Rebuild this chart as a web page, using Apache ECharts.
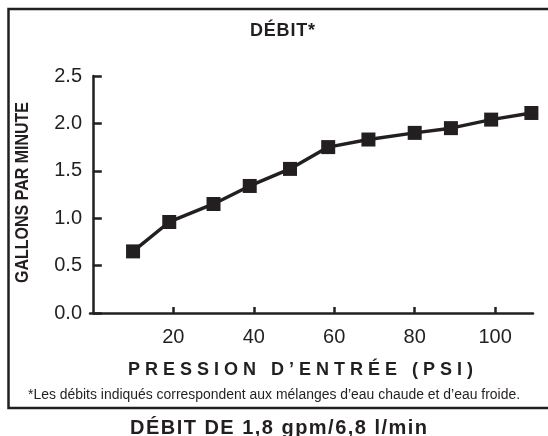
<!DOCTYPE html>
<html>
<head>
<meta charset="utf-8">
<script src="https://cdn.jsdelivr.net/npm/echarts@6/dist/echarts.min.js"></script>
<style>
html,body{margin:0;padding:0;background:#fff;}
#chart{width:548px;height:436px;}
</style>
</head>
<body>
<div id="chart"></div>
<script>
// ---- data ----
var pressure = [10, 19, 30, 39, 49, 58.5, 68.5, 80, 89, 99, 109];
var flowGpm  = [0.65, 0.96, 1.15, 1.34, 1.52, 1.75, 1.83, 1.90, 1.95, 2.04, 2.11];
var xTicks = [20, 40, 60, 80, 100];
var yTicks = [0, 0.5, 1.0, 1.5, 2.0, 2.5];
var titleText = 'DÉBIT*';
var yName = 'GALLONS PAR MINUTE';
var xName = 'PRESSION D’ENTRÉE (PSI)';
var footnote = '*Les débits indiqués correspondent aux mélanges d’eau chaude et d’eau froide.';
var bottomTitle = 'DÉBIT DE 1,8 gpm/6,8 l/min';

var INK = '#231f20';
var FAM = '"Liberation Sans", Arial, Helvetica, sans-serif';

var cv = document.createElement('canvas').getContext('2d');
function measure(str, font){ cv.font = font; return cv.measureText(str).width; }

// text letter-spaced to fill a target width
function spaced(str, size, weight, cx, cy, target){
  var font = weight + ' ' + size + 'px ' + FAM;
  var chars = Array.from(str);
  var widths = chars.map(function(c){ return measure(c, font); });
  var nat = widths.reduce(function(a,b){return a+b;},0);
  var gap = (target - nat) / (chars.length - 1);
  var children = [], x = 0;
  chars.forEach(function(c, i){
    children.push({type:'text', x:x, y:0, style:{text:c, font:font, fill:INK, align:'left', verticalAlign:'middle'}});
    x += widths[i] + gap;
  });
  return {type:'group', x: cx - target/2, y: cy, children: children, silent:true};
}
// text horizontally scaled to fit a target width
function fitted(str, size, weight, cx, cy, target, rot){
  var font = weight + ' ' + size + 'px ' + FAM;
  var nat = measure(str, font);
  return {type:'text', x:cx, y:cy, rotation: rot || 0, scaleX: target/nat, scaleY:1,
    style:{text:str, font:font, fill:INK, align:'center', verticalAlign:'middle'}, silent:true};
}

var chart = echarts.init(document.getElementById('chart'), null, {renderer:'canvas'});
chart.setOption({
  animation:false,
  backgroundColor:'#fff',
  grid:{left:90, right:15, top:76, bottom:123, containLabel:false},
  xAxis:{
    type:'value', min:-0.7, max:109.4,
    axisLine:{show:true, lineStyle:{color:INK, width:2.5}},
    axisTick:{show:true, inside:true, length:6, lineStyle:{color:INK, width:2.5}, customValues:xTicks},
    axisLabel:{show:true, customValues:xTicks, color:INK, fontSize:20, fontFamily:FAM, margin:14},
    splitLine:{show:false}
  },
  yAxis:{
    type:'value', min:0, max:2.5, interval:0.5,
    axisLine:{show:true, lineStyle:{color:INK, width:2.5}},
    axisTick:{show:true, inside:true, length:9, lineStyle:{color:INK, width:2.5}},
    axisLabel:{show:true, color:INK, fontSize:20, fontFamily:FAM, margin:8,
      formatter:function(v){ return v.toFixed(1); }},
    splitLine:{show:false}
  },
  series:[{
    type:'line',
    data: pressure.map(function(p,i){ return [p, flowGpm[i]]; }),
    symbol:'rect', symbolSize:14, showSymbol:true, clip:false,
    itemStyle:{color:INK},
    lineStyle:{color:INK, width:3.5}
  }],
  graphic:[
    {type:'rect', shape:{x:8.5, y:9, width:600, height:399}, style:{fill:null, stroke:INK, lineWidth:2.5}, silent:true, z:-1},
    spaced(titleText, 18, 'bold', 282.5, 31, 65),
    fitted(yName, 18, 'bold', 23.5, 192.5, 181, Math.PI/2),
    spaced(xName, 18, 'bold', 300.5, 370, 345),
    fitted(footnote, 14, 'normal', 274, 395.5, 492),
    spaced(bottomTitle, 20, 'bold', 278.5, 428, 297)
  ]
});
</script>
</body>
</html>
